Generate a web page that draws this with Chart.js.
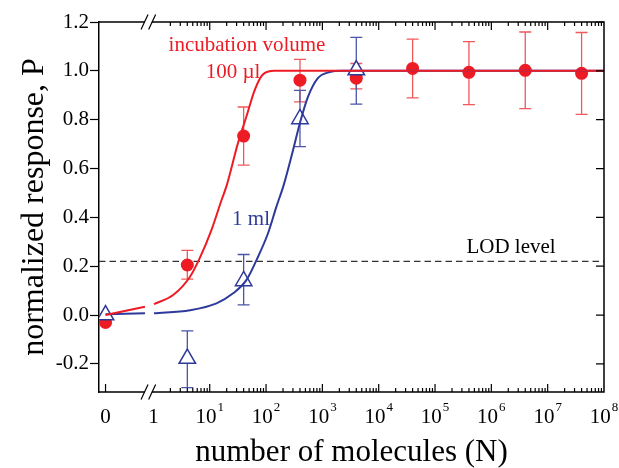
<!DOCTYPE html>
<html>
<head>
<meta charset="utf-8">
<script src="https://cdn.jsdelivr.net/npm/chart.js@4/dist/chart.umd.min.js"></script>
<style>
    html, body { margin: 0; padding: 0; background: #ffffff; }
    #wrap { width: 619px; height: 468px; }
</style>
</head>
<body>
<div id="wrap"><canvas id="chart" width="619" height="468"></canvas></div>
<script>
// Axis position of N = 0 (left of the axis break); everything else is log10(N)
const ZERO_AT = -0.85;
const BREAK_AT = -0.09;
const LOD = 0.22;

// Measured points, incubation volume 100 µl
const redN    = [0, 4, 40, 400, 4000, 4e4, 4e5, 4e6, 4e7];
const redP    = [-0.03, 0.205, 0.733, 0.962, 0.97, 1.01, 0.994, 1.002, 0.99];
const redLow  = [null, 0.147, 0.614, 0.873, 0.926, 0.889, 0.862, 0.845, 0.822];
const redHigh = [null, 0.265, 0.852, 1.047, 1.03, 1.13, 1.12, 1.159, 1.157];

// Measured points, incubation volume 1 ml
const blueN    = [0, 4, 40, 400, 4000];
const blueP    = [0.0, -0.178, 0.14, 0.803, 1.003];
const blueLow  = [null, -0.297, 0.042, 0.69, 0.864];
const blueHigh = [null, -0.065, 0.248, 0.92, 1.137];

// Fitted curves (axis position, P); null = gap at the break
const redCurveX  = [ZERO_AT, -0.15, BREAK_AT, 0.01, 0.35, 0.65, 0.82, 1.03, 1.21, 1.30, 1.50, 1.65, 1.80, 1.94, 2.15, 8];
const redCurveY  = [0.0, 0.034, null, 0.045, 0.082, 0.157, 0.232, 0.348, 0.471, 0.53, 0.703, 0.812, 0.922, 0.984, 1.0, 1.0];
const blueCurveX = [ZERO_AT, -0.15, BREAK_AT, 0.01, 0.65, 1.12, 1.415, 1.65, 1.83, 2.035, 2.184, 2.31, 2.48, 2.60, 2.745, 2.92, 3.13, 3.35, 8];
const blueCurveY = [0.003, 0.007, null, 0.007, 0.02, 0.048, 0.089, 0.143, 0.225, 0.335, 0.444, 0.53, 0.676, 0.785, 0.894, 0.97, 0.995, 1.0, 1.0];

// Tick labels
const xDecades = [1, 2, 3, 4, 5, 6, 7, 8];
const xRange = [-0.966, 8];
const yRange = [-0.315, 1.2];

const SERIF = '"Liberation Serif", "Times New Roman", serif';
const RED = '#ed1c24';
const RED_BAR = '#f0585c';
const BLUE = '#2e3a9a';
const BLUE_BAR = '#4a55a8';

function toAxis(n) {
    return n === 0 ? ZERO_AT : Math.log10(n);
}

function pts(xs, ys) {
    return xs.map((x, i) => ({ x: x, y: ys[i] }));
}

const errorSets = [
    { dataset: 0, low: redLow, high: redHigh, color: RED_BAR },
    { dataset: 1, low: blueLow, high: blueHigh, color: BLUE_BAR },
];

// error bars under the markers
const errorBars = {
    id: 'errorBars',
    beforeDatasetsDraw(chart) {
        const ctx = chart.ctx;
        const y = chart.scales.y;
        ctx.save();
        ctx.lineWidth = 1.3;
        errorSets.forEach(set => {
            const meta = chart.getDatasetMeta(set.dataset);
            ctx.strokeStyle = set.color;
            meta.data.forEach((el, i) => {
                if (set.low[i] === null) return;
                const yl = y.getPixelForValue(set.low[i]);
                const yh = y.getPixelForValue(set.high[i]);
                ctx.beginPath();
                ctx.moveTo(el.x, yl);
                ctx.lineTo(el.x, yh);
                ctx.moveTo(el.x - 6, yl);
                ctx.lineTo(el.x + 6, yl);
                ctx.moveTo(el.x - 6, yh);
                ctx.lineTo(el.x + 6, yh);
                ctx.stroke();
            });
        });
        ctx.restore();
    }
};

// box, inward ticks, axis break, x labels and annotations
const frame = {
    id: 'frame',
    afterDatasetsDraw(chart) {
        const ctx = chart.ctx;
        const { left, right, top, bottom } = chart.chartArea;
        const x = chart.scales.x;
        const y = chart.scales.y;
        const bx = x.getPixelForValue(BREAK_AT);

        ctx.save();
        ctx.strokeStyle = '#000';
        ctx.lineWidth = 1.5;
        ctx.beginPath();
        ctx.moveTo(left, top); ctx.lineTo(bx - 3.5, top);
        ctx.moveTo(bx + 3.5, top); ctx.lineTo(right, top); ctx.lineTo(right, bottom);
        ctx.lineTo(bx + 3.5, bottom);
        ctx.moveTo(bx - 3.5, bottom); ctx.lineTo(left, bottom);
        ctx.stroke();

        // right axis ticks
        ctx.lineWidth = 1.2;
        ctx.beginPath();
        y.ticks.forEach(t => {
            const py = y.getPixelForValue(t.value);
            ctx.moveTo(right, py);
            ctx.lineTo(right - 8, py);
        });
        // top and bottom log ticks
        const tick = (v, len, bottomOnly) => {
            const px = x.getPixelForValue(v);
            ctx.moveTo(px, bottom);
            ctx.lineTo(px, bottom - len);
            if (!bottomOnly) {
                ctx.moveTo(px, top);
                ctx.lineTo(px, top + len);
            }
        };
        tick(ZERO_AT, 8, true);
        for (let d = 0; d < 8; d++) {
            for (let k = 2; k <= 9; k++) tick(d + Math.log10(k), 4, false);
            if (d + 1 < 8) tick(d + 1, 8, false);
        }
        ctx.stroke();

        // axis break marks
        [top, bottom].forEach(py => {
            ctx.beginPath();
            [bx - 3.8, bx + 3.8].forEach(sx => {
                ctx.moveTo(sx - 3.5, py + 7.5);
                ctx.lineTo(sx + 3.5, py - 7.5);
            });
            ctx.stroke();
        });

        // x tick labels
        ctx.fillStyle = '#000';
        ctx.textBaseline = 'alphabetic';
        ctx.textAlign = 'left';
        const base = 422.5;
        const label = (v, main, sup) => {
            ctx.font = '21px ' + SERIF;
            const w1 = ctx.measureText(main).width;
            ctx.font = '13px ' + SERIF;
            const w2 = sup ? ctx.measureText(sup).width + 1 : 0;
            const x0 = x.getPixelForValue(v) - (w1 + w2) / 2;
            ctx.font = '21px ' + SERIF;
            ctx.fillText(main, x0, base);
            if (sup) {
                ctx.font = '13px ' + SERIF;
                ctx.fillText(sup, x0 + w1 + 1, base - 12);
            }
        };
        label(ZERO_AT, '0');
        label(0, '1');
        xDecades.forEach(d => label(d, '10', String(d)));

        // annotations
        ctx.textAlign = 'center';
        ctx.font = '21px ' + SERIF;
        ctx.fillStyle = RED;
        ctx.fillText('incubation volume', 247, 50.5);
        ctx.fillText('100 \u00b5l', 233, 77.5);
        ctx.fillStyle = BLUE;
        ctx.fillText('1 ml', 251, 225);
        ctx.fillStyle = '#000';
        ctx.fillText('LOD level', 511, 252.5);
        ctx.restore();
    }
};

const ctx = document.getElementById('chart').getContext('2d');
new Chart(ctx, {
    type: 'scatter',
    data: {
        datasets: [
            {
                label: '100 µl',
                data: pts(redN.map(toAxis), redP),
                pointStyle: 'circle',
                pointRadius: 6.5,
                pointBackgroundColor: RED,
                pointBorderColor: RED,
                pointBorderWidth: 0,
                showLine: false,
                order: 5
            },
            {
                label: '1 ml',
                data: pts(blueN.map(toAxis), blueP),
                pointStyle: 'triangle',
                pointRadius: 9.5,
                pointBackgroundColor: '#ffffff',
                pointBorderColor: BLUE,
                pointBorderWidth: 1.5,
                showLine: false,
                order: 4
            },
            {
                label: 'fit 1 ml',
                data: pts(blueCurveX, blueCurveY),
                showLine: true,
                borderColor: BLUE,
                borderWidth: 2,
                pointRadius: 0,
                cubicInterpolationMode: 'monotone',
                spanGaps: false,
                order: 3
            },
            {
                label: 'fit 100 µl',
                data: pts(redCurveX, redCurveY),
                showLine: true,
                borderColor: RED,
                borderWidth: 2,
                pointRadius: 0,
                cubicInterpolationMode: 'monotone',
                spanGaps: false,
                order: 2
            },
            {
                label: 'LOD level',
                data: pts(xRange, [LOD, LOD]),
                showLine: true,
                borderColor: '#333333',
                borderWidth: 1.2,
                borderDash: [6.5, 4],
                pointRadius: 0,
                order: 6
            }
        ]
    },
    options: {
        responsive: false,
        animation: false,
        layout: { padding: { top: 22, right: 15, left: 0, bottom: 0 } },
        plugins: {
            legend: { display: false },
            tooltip: { enabled: false }
        },
        scales: {
            x: {
                type: 'linear',
                min: xRange[0],
                max: xRange[1],
                grid: { display: false },
                border: { display: false },
                ticks: { display: false },
                title: {
                    display: true,
                    text: 'number of molecules (N)',
                    color: '#000',
                    font: { family: SERIF, size: 31, lineHeight: 1 },
                    padding: { top: 0, bottom: 0 }
                },
                afterFit: s => { s.height = 76; }
            },
            y: {
                min: yRange[0],
                max: yRange[1],
                ticks: {
                    stepSize: 0.2,
                    includeBounds: false,
                    padding: 1,
                    color: '#000',
                    font: { family: SERIF, size: 21 },
                    callback: v => v.toFixed(1)
                },
                grid: {
                    drawOnChartArea: false,
                    drawTicks: true,
                    tickLength: 9,
                    tickColor: '#000',
                    tickWidth: 1.2
                },
                border: { display: true, color: '#000', width: 1.5 },
                title: {
                    display: true,
                    text: 'normalized response, P',
                    color: '#000',
                    font: { family: SERIF, size: 32, lineHeight: 1.2 },
                    padding: { top: 15, bottom: 0 }
                },
                afterFit: s => { s.width = 99; }
            }
        }
    },
    plugins: [errorBars, frame]
});
</script>
</body>
</html>
